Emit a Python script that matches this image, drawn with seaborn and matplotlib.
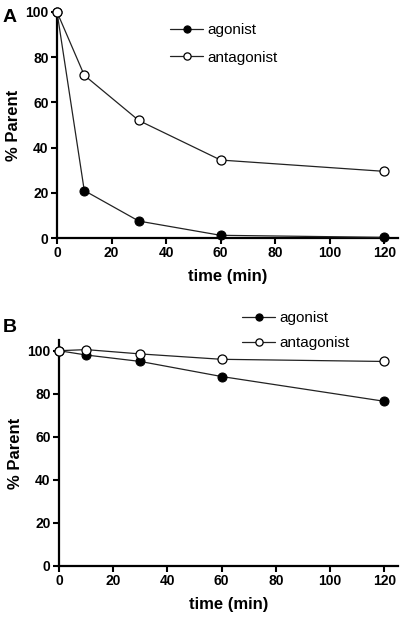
import matplotlib
matplotlib.use("Agg")
import matplotlib.pyplot as plt
import seaborn as sns
import pandas as pd

# time points (min)
time = [0, 10, 30, 60, 120]

# panel A: % parent remaining
a_agonist = [100, 21, 7.5, 1.2, 0.3]
a_antagonist = [100, 72, 52, 34.5, 29.5]

# panel B: % parent remaining
b_agonist = [100, 98, 95, 88, 76.5]
b_antagonist = [100, 100.5, 98.5, 96, 95]

sns.set_style("ticks", {"axes.edgecolor": "black", "text.color": "black",
                        "xtick.color": "black", "ytick.color": "black",
                        "axes.labelcolor": "black"})
plt.rcParams['font.family'] = ['Liberation Sans', 'DejaVu Sans']

fig = plt.figure(figsize=(4.11, 6.21), dpi=100)
axA = fig.add_axes([0.1387, 0.6167, 0.8293, 0.364])
axB = fig.add_axes([0.1436, 0.0886, 0.8244, 0.364])


def draw(ax, ago, antago, ymax, leg_anchor, spacing):
    df = pd.DataFrame({
        "time": time * 2,
        "pct": ago + antago,
        "compound": ["agonist"] * 5 + ["antagonist"] * 5,
    })
    sns.lineplot(data=df[df.compound == "agonist"], x="time", y="pct", ax=ax,
                 color="#222222", lw=0.9, marker="o", markersize=6.5,
                 markerfacecolor="black", markeredgecolor="black",
                 label="agonist", clip_on=False, zorder=3)
    sns.lineplot(data=df[df.compound == "antagonist"], x="time", y="pct", ax=ax,
                 color="#222222", lw=0.9, marker="o", markersize=6.5,
                 markerfacecolor="white", markeredgecolor="black",
                 markeredgewidth=0.9, label="antagonist", clip_on=False, zorder=3)
    ax.set_xlim(0, 125)
    ax.set_ylim(0, ymax)
    ax.set_xticks([0, 20, 40, 60, 80, 100, 120])
    ax.set_yticks([0, 20, 40, 60, 80, 100])
    sns.despine(ax=ax)
    for s in ("left", "bottom"):
        ax.spines[s].set_linewidth(1.6)
    ax.tick_params(width=1.5, length=4, labelsize=10, pad=2)
    for t in ax.get_xticklabels() + ax.get_yticklabels():
        t.set_fontweight("bold")
    ax.set_xlabel("time (min)", fontsize=12, fontweight="bold", labelpad=6)
    ax.set_ylabel("% Parent", fontsize=12, fontweight="bold", labelpad=3)
    ax.legend(loc="upper left", bbox_to_anchor=leg_anchor, bbox_transform=fig.transFigure,
              frameon=False, fontsize=11, handlelength=2.16, handletextpad=0.26,
              labelspacing=spacing, borderaxespad=0, borderpad=0, markerscale=0.8)


draw(axA, a_agonist, a_antagonist, 100, (170 / 411, 1 - 23 / 621), 0.9)
draw(axB, b_agonist, b_antagonist, 105, (242 / 411, 1 - 311 / 621), 0.75)

fig.text(3 / 411, 1 - 22 / 621, "A", fontsize=14, fontweight="bold")
fig.text(3 / 411, 1 - 332 / 621, "B", fontsize=14, fontweight="bold")

fig.savefig("out.png", dpi=100)
